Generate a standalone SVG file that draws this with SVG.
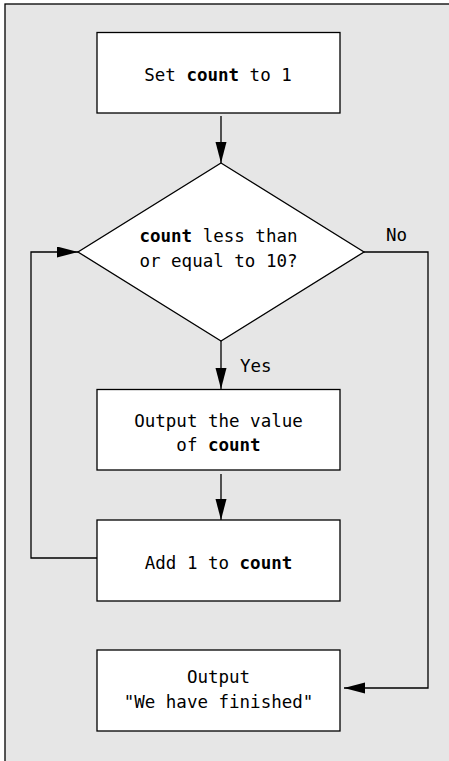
<svg xmlns="http://www.w3.org/2000/svg" width="449" height="761" viewBox="0 0 449 761">
<style>
.box{fill:#fff;stroke:#000;stroke-width:1.3}
.line{fill:none;stroke:#000;stroke-width:1.3}
text{font-family:"DejaVu Sans Mono","Liberation Mono",monospace;font-size:17.5px;fill:#000}
.c{text-anchor:middle}
.b{font-weight:bold}
</style>
<defs>
<marker id="arr" markerUnits="userSpaceOnUse" markerWidth="22" markerHeight="12" refX="21" refY="5.5" orient="auto">
<path d="M0,0 L21,5.5 L0,11 z" fill="#000"/>
</marker>
</defs>
<rect x="5" y="4" width="470" height="800" fill="#e6e6e6" stroke="#000" stroke-width="1.3"/>
<g id="connectors">
<line class="line" x1="221" y1="116" x2="221" y2="163" marker-end="url(#arr)"/>
<line class="line" x1="221" y1="341" x2="221" y2="389" marker-end="url(#arr)"/>
<line class="line" x1="221" y1="474" x2="221" y2="520" marker-end="url(#arr)"/>
<polyline class="line" points="97,558 31,558 31,252 78,252" marker-end="url(#arr)"/>
<polyline class="line" points="364,252 428,252 428,688 344,688" marker-end="url(#arr)"/>
<text x="386" y="241">No</text>
<text x="240" y="372">Yes</text>
</g>
<g id="start">
<rect class="box" x="97" y="32.5" width="243" height="80.5"/>
<text class="c" x="218" y="81">Set <tspan class="b">count</tspan> to 1</text>
</g>
<g id="decision">
<polygon class="box" points="221,163 364,252 221,341 78,252"/>
<text class="c" x="218.5" y="242"><tspan class="b">count</tspan> less than</text>
<text class="c" x="218.5" y="266.5">or equal to 10?</text>
</g>
<g id="output">
<rect class="box" x="97" y="389.5" width="243" height="80.5"/>
<text class="c" x="218.5" y="427">Output the value</text>
<text class="c" x="218.5" y="451">of <tspan class="b">count</tspan></text>
</g>
<g id="add">
<rect class="box" x="97" y="520" width="243" height="81"/>
<text class="c" x="218.5" y="569">Add 1 to <tspan class="b">count</tspan></text>
</g>
<g id="finished">
<rect class="box" x="97" y="650" width="243" height="81"/>
<text class="c" x="218.5" y="683">Output</text>
<text class="c" x="218.5" y="707.5">"We have finished"</text>
</g>
</svg>
